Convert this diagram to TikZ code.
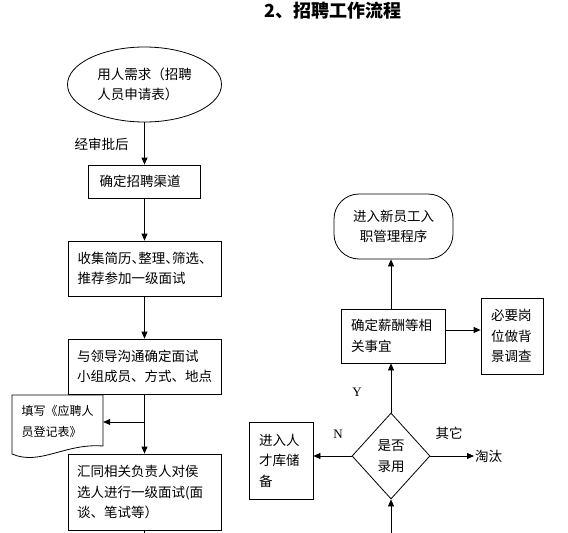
\documentclass[tikz,border=0pt]{standalone}
\usepackage{fontspec}
\setmainfont{Noto Sans CJK SC}
\newfontfamily\latinserif{Liberation Serif}
\usetikzlibrary{arrows.meta,shapes.geometric}
\newcommand{\hdun}{\makebox[0.5em][l]{、}}
\tikzset{
  every node/.style={font=\fontsize{13.5}{20.5}\selectfont},
  arr/.style={line width=0.8pt,-{Triangle[length=7pt,width=6pt]}},
  conn/.style={line width=0.8pt},
  procbox/.style={draw,line width=0.8pt,rectangle,align=left,inner xsep=10pt,inner ysep=0pt},
  lbl/.style={inner sep=1pt},
}
\begin{document}
\begin{tikzpicture}[x=1pt,y=-1pt]
\useasboundingbox (0,0) rectangle (568,533);
% title
\node[font=\fontsize{18}{20}\selectfont\bfseries] (title) at (333,11) {2、招聘工作流程};
% left column
\node[draw,line width=0.8pt,ellipse,minimum width=154pt,minimum height=75pt,inner sep=0pt,align=left] (e) at (144.5,84.5) {用人需求（招聘\\人员申请表）};
\node[lbl] (l1) at (101.5,144) {经审批后};
\node[procbox,text width=90pt,minimum height=33pt,inner xsep=11pt] (b1) at (144.5,181.5) {确定招聘渠道};
\node[procbox,text width=134pt,minimum height=55pt,inner xsep=9.5pt] (b2) at (144.5,268.5) {收集简历\hdun 整理\hdun 筛选\hdun\\推荐参加一级面试};
\node[procbox,text width=135pt,minimum height=55pt,inner xsep=9pt] (b3) at (144.5,366.5) {与领导沟通确定面试\\小组成员、方式、地点};
\node[procbox,text width=135pt,minimum height=76pt,inner xsep=9pt] (b4) at (144.5,492) {汇同相关负责人对侯\\选人进行一级面试(面\\谈、笔试等）};
% document shape
\node[rectangle,minimum width=91pt,minimum height=52pt,inner sep=0pt,text width=72pt,align=left,font=\fontsize{12}{21}\selectfont] (doc) at (57.5,421) {填写《应聘人\\员登记表》};
\draw[conn] (12,454) -- (12,395) -- (103,395) -- (103,446) .. controls (65,443) and (40,466) .. (12,454);
% right column
\node[draw,line width=0.8pt,rectangle,rounded corners=25pt,minimum width=119pt,minimum height=65pt,align=center,inner sep=0pt] (r) at (393.5,226.5) {进入新员工入\\职管理程序};
\node[procbox,text width=84pt,minimum height=54pt] (s) at (393,336) {确定薪酬等相\\关事宜};
\node[procbox,text width=42pt,minimum height=76pt] (bg) at (512,336) {必要岗\\位做背\\景调查};
\node[procbox,text width=44pt,minimum height=77pt] (rc) at (281,460.5) {进入人\\才库储\\备};
\node[draw,line width=0.8pt,diamond,minimum width=78pt,minimum height=86pt,inner sep=0pt,align=center] (d) at (391,456) {是否\\录用};
\node[lbl,anchor=west] (t) at (474,456) {淘汰};
\node[lbl,font=\fontsize{13}{15}\latinserif] (ly) at (357,392) {Y};
\node[lbl,font=\fontsize{13}{15}\latinserif] (ln) at (338,434) {N};
\node[lbl] (lq) at (449,433) {其它};
\coordinate (br) at (144.5,422);
\coordinate (bot) at (391,545);
\coordinate (b4end) at (144.5,545);
% connectors
\draw[arr] (e.south) -- (b1.north);
\draw[arr] (b1.south) -- (b2.north);
\draw[arr] (b2.south) -- (b3.north);
\draw[arr] (b3.south) -- (b4.north);
\draw[arr] (br) -- (br -| doc.east);
\draw[conn] (b4.south) -- (b4end);
\draw[arr] (bot) -- (d.south);
\draw[arr] (d.north) -- (d.north |- s.south);
\draw[arr] (d.north |- s.north) -- (d.north |- r.south);
\draw[arr] ([yshift=6pt]s.east) -- ([yshift=6pt]s.east -| bg.west);
\draw[arr] (d.west) -- (d.west -| rc.east);
\draw[arr] (d.east) -- (t.west);
\end{tikzpicture}
\end{document}
